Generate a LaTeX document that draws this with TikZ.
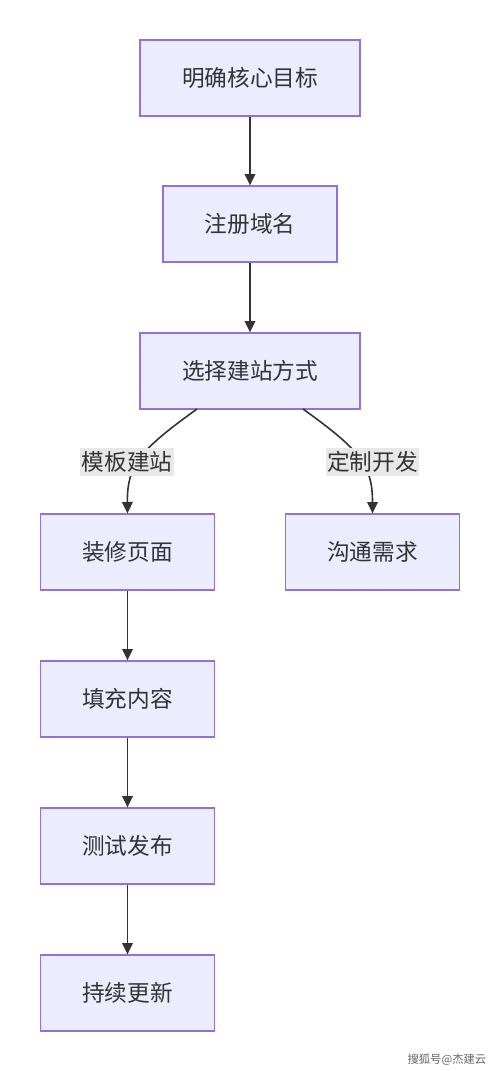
\documentclass[tikz,border=0pt]{standalone}
\usepackage{fontspec}
\newfontfamily\cjk{Noto Sans CJK SC}
\usetikzlibrary{arrows.meta}
\definecolor{boxfill}{HTML}{ECECFF}
\definecolor{boxline}{HTML}{9370DB}
\definecolor{ink}{HTML}{333333}
\definecolor{lblbg}{HTML}{E8E8E8}
\tikzset{
  stepbox/.style={draw=boxline, fill=boxfill, line width=1pt, minimum height=57pt, inner sep=0pt, text=ink, font=\cjk\fontsize{17}{19}\selectfont},
  wide/.style={minimum width=165pt},
  mid/.style={minimum width=130.5pt},
  arr/.style={draw=ink, line width=1.2pt, -{Triangle[length=8.5pt,width=8pt]}},
  lbl/.style={fill=lblbg, text=ink, inner xsep=1pt, inner ysep=2.5pt, font=\cjk\fontsize{17}{19}\selectfont},
}
\begin{document}
\begin{tikzpicture}[x=0.75pt,y=-0.75pt]
\useasboundingbox[fill=white] (0,0) rectangle (500,1071);
\node[stepbox,wide] (b1) at (250,78) {明确核心目标};
\node[stepbox,mid] (b2) at (250,224) {注册域名};
\node[stepbox,wide] (b3) at (250,371) {选择建站方式};
\node[stepbox,mid] (b4) at (127.5,552) {装修页面};
\node[stepbox,mid] (b5) at (372.5,552) {沟通需求};
\node[stepbox,mid] (b6) at (127.5,699) {填充内容};
\node[stepbox,mid] (b7) at (127.5,846) {测试发布};
\node[stepbox,mid] (b8) at (127.5,993) {持续更新};
\coordinate (s1) at (197,409);
\coordinate (s2) at (303,409);
\draw[arr] (b1) -- (b2);
\draw[arr] (b2) -- (b3);
\draw[arr] (s1) .. controls (140,450) and (127,465) .. (b4.north);
\draw[arr] (s2) .. controls (360,450) and (372.5,465) .. (b5.north);
\node[lbl] (l1) at (127,462) {模板建站};
\node[lbl] (l2) at (372.5,462) {定制开发};
\draw[arr] (b4) -- (b6);
\draw[arr] (b6) -- (b7);
\draw[arr] (b7) -- (b8);
\node[text=black!60, font=\cjk\fontsize{8.5}{10}\selectfont, anchor=east] (wm) at (491,1060) {搜狐号@杰建云};
\end{tikzpicture}
\end{document}
